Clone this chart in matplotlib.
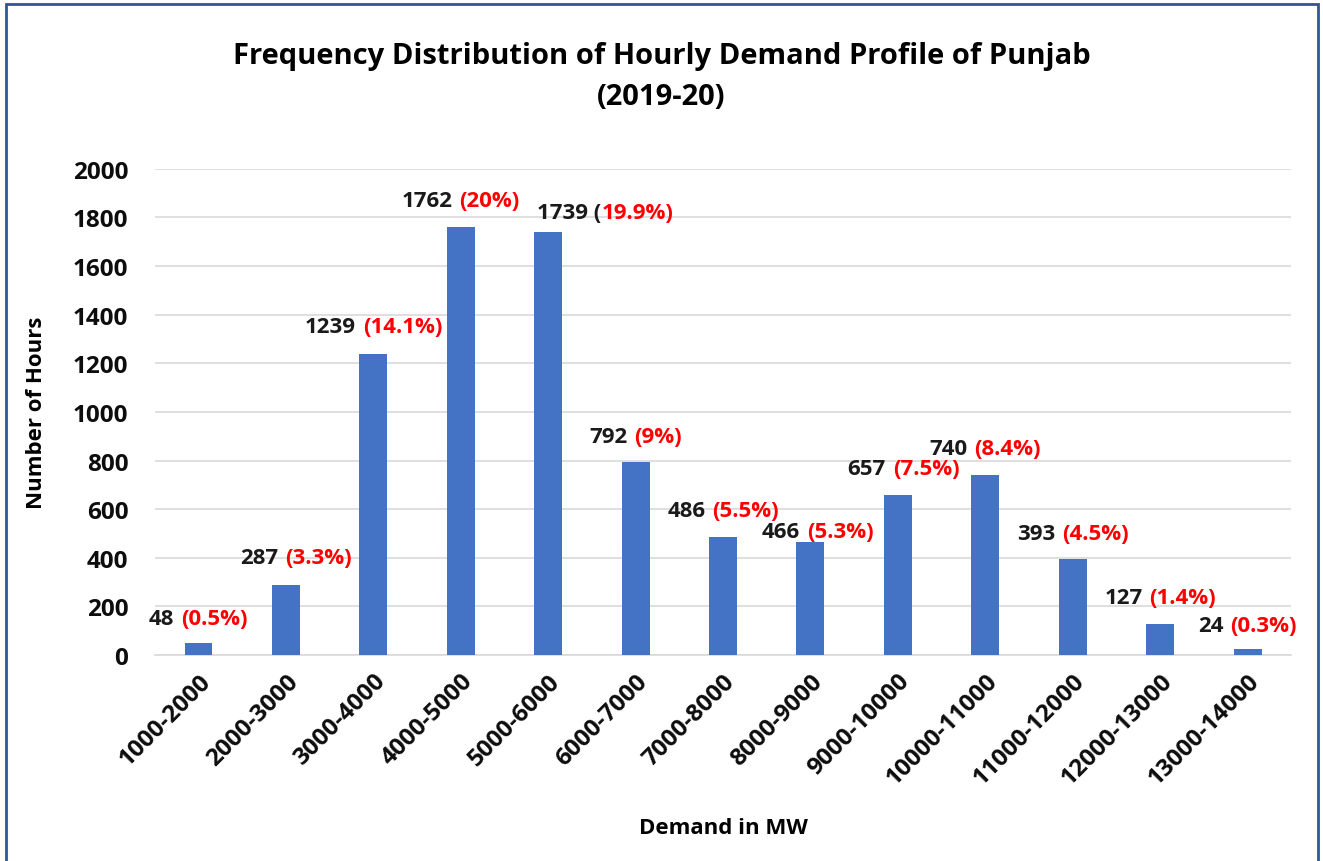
import matplotlib
matplotlib.use("Agg")
import matplotlib.pyplot as plt
from matplotlib.offsetbox import TextArea, HPacker, AnnotationBbox
from matplotlib.patches import Rectangle

categories = ["1000-2000", "2000-3000", "3000-4000", "4000-5000", "5000-6000",
              "6000-7000", "7000-8000", "8000-9000", "9000-10000", "10000-11000",
              "11000-12000", "12000-13000", "13000-14000"]
hours = [48, 287, 1239, 1762, 1739, 792, 486, 466, 657, 740, 393, 127, 24]
# label text: black part and red part
label_black = ["48", "287", "1239", "1762", "1739 (", "792", "486", "466",
               "657", "740", "393", "127", "24"]
label_red = ["(0.5%)", "(3.3%)", "(14.1%)", "(20%)", "19.9%)", "(9%)", "(5.5%)",
             "(5.3%)", "(7.5%)", "(8.4%)", "(4.5%)", "(1.4%)", "(0.3%)"]
yticks = [0, 200, 400, 600, 800, 1000, 1200, 1400, 1600, 1800, 2000]

# label offsets in points (dx, dy) of label centre relative to bar top centre
label_dx = [0, 7, 0, 0, 41, 0, 0, 5, 4, 0, 0, 0, 0]
label_dy = [18, 20, 20, 19, 14.5, 19, 19, 7, 19.5, 19.5, 19, 19, 17]

FONT = "Open Sans"
plt.rcParams['font.family'] = [FONT, 'DejaVu Sans']
plt.rcParams['font.weight'] = 'bold'
FS = 16
TFS = 17.5

fig = plt.figure(figsize=(13.23, 8.62), dpi=100)
ax = fig.add_axes([0.117, 0.239, 0.859, 0.564])

x = list(range(len(categories)))
ax.bar(x, hours, width=0.32, color="#4472C4", zorder=3)

ax.set_xlim(-0.5, len(categories) - 0.5)
ax.set_ylim(0, 2000)
ax.set_yticks(yticks)
ax.set_yticklabels([str(v) for v in yticks], fontsize=TFS, fontweight='bold')
ax.set_xticks(x)
ax.set_xticklabels(categories, rotation=45, ha='right', rotation_mode='anchor',
                   fontsize=TFS, fontweight='bold')
ax.tick_params(axis='both', length=0, pad=10, labelcolor="#0d0d0d")
ax.tick_params(axis='y', pad=19)
ax.yaxis.grid(True, color="#d9d9d9", linewidth=1.2, zorder=0)
for s in ["top", "right", "left"]:
    ax.spines[s].set_visible(False)
ax.spines["bottom"].set_color("#d9d9d9")
ax.spines["bottom"].set_linewidth(1.2)

ax.set_ylabel("Number of Hours", fontsize=FS, fontweight='bold', labelpad=19)
ax.set_xlabel("Demand in MW", fontsize=FS, fontweight='bold', labelpad=20)

fig.text(0.5, 0.911,
         "Frequency Distribution of Hourly Demand Profile of Punjab\n(2019-20)",
         ha='center', va='center', fontsize=21, fontweight='bold',
         linespacing=1.55)

for i, (h, b, r) in enumerate(zip(hours, label_black, label_red)):
    t1 = TextArea(b, textprops=dict(color="#1a1a1a", fontsize=FS, fontweight='bold'))
    t2 = TextArea(r, textprops=dict(color="#ff0000", fontsize=FS, fontweight='bold'))
    sep = 0 if b.endswith("(") else 5
    box = HPacker(children=[t1, t2], align="baseline", pad=0, sep=sep)
    ab = AnnotationBbox(box, (i, h), xybox=(label_dx[i], label_dy[i]),
                        xycoords='data', boxcoords="offset points",
                        box_alignment=(0.5, 0.5), frameon=False, zorder=5)
    ax.add_artist(ab)

fig.patches.append(Rectangle((0.0045, -0.05), 0.9915, 1.044, transform=fig.transFigure,
                             fill=False, edgecolor="#2F5597", linewidth=2))

fig.savefig("out.png", dpi=100)
